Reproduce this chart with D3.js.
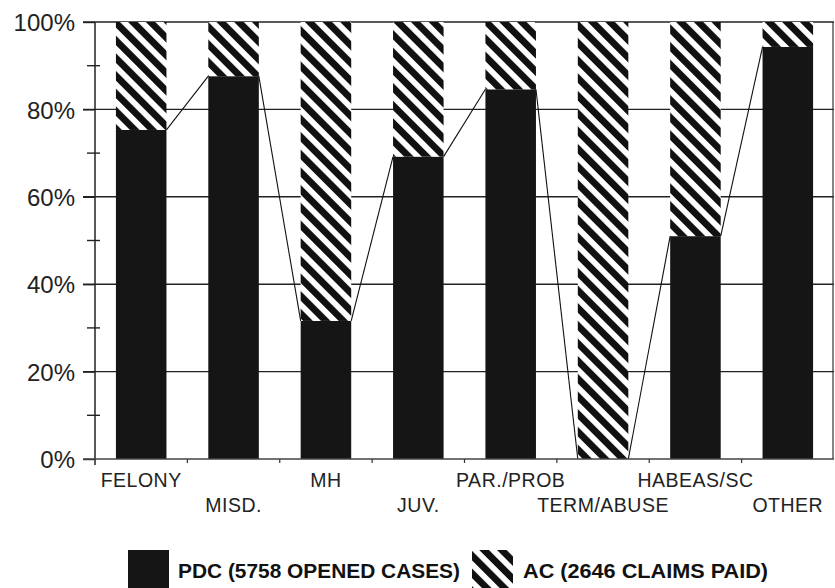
<!DOCTYPE html>
<html>
<head>
<meta charset="utf-8">
<script src="https://cdn.jsdelivr.net/npm/d3@7/dist/d3.min.js"></script>
<style>
  html, body { margin: 0; padding: 0; background: #fff; }
  svg { display: block; }
</style>
</head>
<body>
<svg id="chart" width="835" height="588"></svg>
<script>
// ---- data ----
const categories = ["FELONY", "MISD.", "MH", "JUV.", "PAR./PROB", "TERM/ABUSE", "HABEAS/SC", "OTHER"];
const pdcValues = [75.3, 87.6, 31.6, 69.2, 84.6, 0, 51, 94.3];
const acValues  = [24.7, 12.4, 68.4, 30.8, 15.4, 100, 49, 5.7];
const yTickValues = [0, 20, 40, 60, 80, 100];
const yMinorTicks = [10, 30, 50, 70, 90];
const seriesNames = ["PDC (5758 OPENED CASES)", "AC (2646 CLAIMS PAID)"];

// ---- layout ----
const svg = d3.select("#chart");
const plot = { left: 95, right: 834, top: 22, bottom: 459 };

const x = d3.scaleBand().domain(categories).range([plot.left, plot.right])
  .paddingInner(0.453).paddingOuter(0.2265);
const y = d3.scaleLinear().domain([0, 100]).range([plot.bottom, plot.top]);

// hatch pattern
const defs = svg.append("defs");
const pat = defs.append("pattern").attr("id", "hatch")
  .attr("patternUnits", "userSpaceOnUse").attr("width", 12.5).attr("height", 12.5)
  .attr("patternTransform", "rotate(-45)");
pat.append("rect").attr("width", 12.5).attr("height", 12.5).attr("fill", "#fff");
pat.append("rect").attr("x", 0).attr("y", 0).attr("width", 6.8).attr("height", 12.5).attr("fill", "#111");

// gridlines (with major tick extension)
svg.append("g").selectAll("line").data(yTickValues.filter(d => d > 0)).join("line")
  .attr("x1", plot.left - 12).attr("x2", plot.right)
  .attr("y1", d => y(d)).attr("y2", d => y(d))
  .attr("stroke", "#222").attr("stroke-width", 1.4);

// right border
svg.append("line").attr("x1", plot.right - 1).attr("x2", plot.right - 1)
  .attr("y1", plot.top).attr("y2", plot.bottom)
  .attr("stroke", "#333").attr("stroke-width", 1.2);

// stacked data
const stacked = categories.map((c, i) => ({ c, pdc: pdcValues[i], ac: acValues[i] }));

// PDC bars
svg.append("g").selectAll("rect").data(stacked).join("rect")
  .attr("x", d => x(d.c)).attr("width", x.bandwidth())
  .attr("y", d => y(d.pdc)).attr("height", d => y(0) - y(d.pdc))
  .attr("fill", "#151515");

// AC bars (hatched)
svg.append("g").selectAll("rect").data(stacked).join("rect")
  .attr("x", d => x(d.c)).attr("width", x.bandwidth())
  .attr("y", d => y(d.pdc + d.ac)).attr("height", d => y(d.pdc) - y(d.pdc + d.ac))
  .attr("fill", "url(#hatch)");

// series lines connecting PDC tops
const segs = d3.pairs(stacked);
svg.append("g").selectAll("line").data(segs).join("line")
  .attr("x1", d => x(d[0].c) + x.bandwidth()).attr("y1", d => y(d[0].pdc))
  .attr("x2", d => x(d[1].c)).attr("y2", d => y(d[1].pdc))
  .attr("stroke", "#111").attr("stroke-width", 1.1);

// y axis
const yAxis = svg.append("g").attr("transform", `translate(${plot.left},0)`)
  .call(d3.axisLeft(y).tickValues(yTickValues).tickSize(12).tickPadding(8).tickFormat(d => d + "%"));
yAxis.select(".domain").remove();
yAxis.selectAll(".tick line").attr("stroke", "#222").attr("stroke-width", 1.4);
yAxis.selectAll("text").attr("font-family", "Liberation Sans, Arial, sans-serif")
  .attr("font-size", 24).attr("fill", "#222").attr("dy", "0.36em");
svg.append("line").attr("x1", plot.left).attr("x2", plot.left)
  .attr("y1", plot.top).attr("y2", plot.bottom + 6)
  .attr("stroke", "#222").attr("stroke-width", 1.5);
svg.append("g").selectAll("line").data(yMinorTicks).join("line")
  .attr("x1", plot.left - 8).attr("x2", plot.left + 5)
  .attr("y1", d => y(d)).attr("y2", d => y(d))
  .attr("stroke", "#222").attr("stroke-width", 1.4);

// x axis
svg.append("line").attr("x1", plot.left - 12).attr("x2", plot.right)
  .attr("y1", y(0)).attr("y2", y(0)).attr("stroke", "#444").attr("stroke-width", 1.4);
const bounds = d3.pairs(categories).map(([a, b]) => (x(a) + x.bandwidth() + x(b)) / 2);
svg.append("g").selectAll("line").data(bounds).join("line")
  .attr("x1", d => d).attr("x2", d => d)
  .attr("y1", y(0)).attr("y2", y(0) + 4)
  .attr("stroke", "#333").attr("stroke-width", 1.2);
svg.append("g").selectAll("text").data(categories).join("text")
  .attr("x", d => x(d) + x.bandwidth() / 2)
  .attr("y", (d, i) => i % 2 === 0 ? 487 : 512)
  .attr("text-anchor", "middle")
  .attr("font-family", "Liberation Sans, Arial, sans-serif")
  .attr("font-size", 19.5).attr("letter-spacing", 0.5).attr("fill", "#222")
  .text(d => d);

// legend
const legend = svg.append("g");
const legendItems = [
  { name: seriesNames[0], fill: "#151515", sx: 128, tx: 178, tw: 282 },
  { name: seriesNames[1], fill: "url(#hatch)", sx: 472, tx: 523, tw: 245 }
];
legendItems.forEach(it => {
  legend.append("rect").attr("x", it.sx).attr("y", 550).attr("width", 41).attr("height", 42)
    .attr("fill", it.fill);
  legend.append("text").attr("x", it.tx).attr("y", 578)
    .attr("font-family", "Liberation Sans, Arial, sans-serif").attr("font-weight", "bold")
    .attr("font-size", 21).attr("fill", "#111")
    .attr("textLength", it.tw).attr("lengthAdjust", "spacingAndGlyphs")
    .text(it.name);
});
</script>
</body>
</html>
